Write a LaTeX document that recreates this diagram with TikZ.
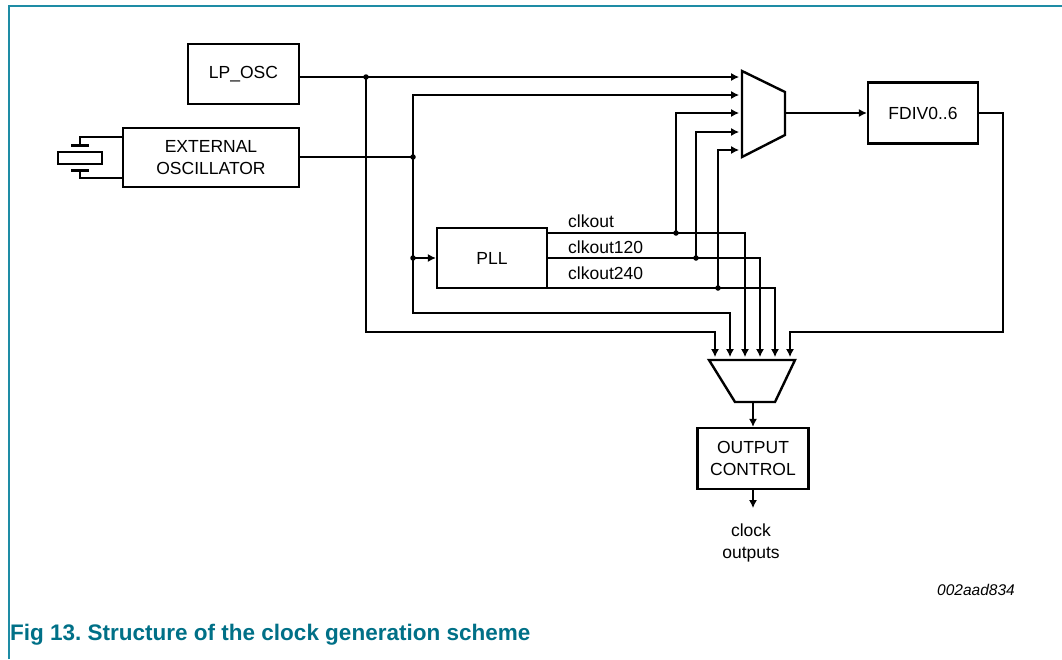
\documentclass[tikz,border=0pt]{standalone}
\usepackage{fontspec}
\setmainfont{Liberation Sans}
\usetikzlibrary{arrows.meta}
\definecolor{framecol}{RGB}{30,140,165}
\definecolor{capcol}{RGB}{0,112,135}
\begin{document}
\begin{tikzpicture}[x=1pt,y=-1pt,
  box/.style={draw, line width=2.4pt, inner sep=0pt, align=center,
    font=\fontsize{17.5}{22}\selectfont},
  lbl/.style={inner sep=0pt, font=\fontsize{17.5}{22}\selectfont},
  wire/.style={line width=1.1pt},
  arr/.style={wire, -{Latex[length=8pt,width=8pt]}},
  jdot/.style={circle, fill, inner sep=0pt, minimum size=5.5pt},
  muxshape/.style={draw, line width=2.4pt, line join=miter}]
\useasboundingbox (0,0) rectangle (1062,659);
% frame
\draw[framecol, line width=1.6pt] (9,659) -- (9,6) -- (1062,6);
% boxes
\node[box, minimum width=111pt, minimum height=60pt] (lp) at (243.5,74) {LP\_OSC};
\node[box, minimum width=176pt, minimum height=59pt] (ext) at (211,157.5) {EXTERNAL\\OSCILLATOR};
\node[box, minimum width=110pt, minimum height=60pt] (pll) at (492,258) {PLL};
\node[box, minimum width=110pt, minimum height=61pt] (fdiv) at (923,113) {FDIV0..6};
\node[box, minimum width=111pt, minimum height=61pt] (out) at (753,458.5) {OUTPUT\\CONTROL};
% crystal
\coordinate (xt1) at (80,137);
\coordinate (xt2) at (80,178);
\draw[wire] (ext.west |- xt1) -- (xt1) -- (80,145);
\draw[wire] (ext.west |- xt2) -- (xt2) -- (80,170);
\draw[line width=3pt] (71,145) -- (89,145);
\draw[line width=3pt] (71,170) -- (89,170);
\draw[wire] (58,152) rectangle (102,164);
% muxes
\draw[muxshape] (742,71) -- (785,92) -- (785,135) -- (742,157) -- cycle;
\draw[muxshape] (709,360) -- (795,360) -- (775,402) -- (735,402) -- cycle;
\coordinate (m1in1) at (739,77);
\coordinate (m1in2) at (739,95);
\coordinate (m1in3) at (739,113);
\coordinate (m1in4) at (739,132);
\coordinate (m1in5) at (739,150);
\coordinate (m1out) at (785,113);
\coordinate (m2in1) at (715,357);
\coordinate (m2in2) at (730,357);
\coordinate (m2in3) at (745,357);
\coordinate (m2in4) at (760,357);
\coordinate (m2in5) at (775,357);
\coordinate (m2in6) at (790,357);
\coordinate (m2out) at (753,402);
% junctions
\node[jdot] (j1) at (366,77) {};
\node[jdot] (j2) at (413,157) {};
\node[jdot] (j3) at (413,258) {};
\node[jdot] (d1) at (676,233) {};
\node[jdot] (d2) at (696,258) {};
\node[jdot] (d3) at (718,288) {};
\coordinate (r1) at (366,332);
\coordinate (r2) at (413,313);
\coordinate (r3) at (1003,332);
% wires
\draw[arr] (lp.east |- m1in1) -- (m1in1);
\draw[arr] (j1.center) -- (r1) -| (m2in1);
\draw[wire] (ext.east |- j2) -- (j2.center);
\draw[arr] (j2.center) |- (m1in2);
\draw[arr] (j2.center) -- (r2) -| (m2in2);
\draw[arr] (j3.center) -- (pll.west);
\draw[arr] (pll.east |- d1) -| (m2in3);
\draw[arr] (pll.east |- d2) -| (m2in4);
\draw[arr] (pll.east |- d3) -| (m2in5);
\draw[arr] (d1.center) |- (m1in3);
\draw[arr] (d2.center) |- (m1in4);
\draw[arr] (d3.center) |- (m1in5);
\draw[arr] (m1out) -- (fdiv.west);
\draw[arr] (fdiv.east) -| (r3) -| (m2in6);
\draw[arr] (m2out) -- (out.north);
\coordinate (otip) at (753,508);
\draw[arr] (out.south) -- (otip);
% labels
\node[lbl, anchor=base west] (l1) at (568,227) {clkout};
\node[lbl, anchor=base west] (l2) at (568,253) {clkout120};
\node[lbl, anchor=base west] (l3) at (568,279) {clkout240};
\node[lbl, align=center] (clk) at (751,543) {clock\\outputs};
\node[inner sep=0pt, anchor=base east, font=\fontsize{15.5}{18}\selectfont\itshape] (ref) at (1015,595) {002aad834};
\node[inner sep=0pt, anchor=base west, text=capcol, font=\fontsize{22.5}{26}\selectfont\bfseries] (cap) at (10,640) {Fig 13.\ Structure of the clock generation scheme};
\end{tikzpicture}
\end{document}
